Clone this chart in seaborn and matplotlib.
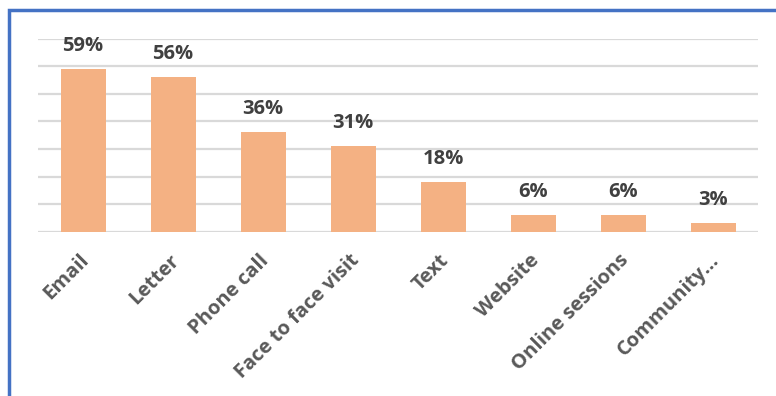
import matplotlib
matplotlib.use("Agg")
import matplotlib.pyplot as plt
from matplotlib.patches import Rectangle
from matplotlib.transforms import ScaledTranslation
import seaborn as sns
import pandas as pd

categories = ["Email", "Letter", "Phone call", "Face to face visit", "Text",
              "Website", "Online sessions", "Community…"]
values = [59, 56, 36, 31, 18, 6, 6, 3]
labels = ["59%", "56%", "36%", "31%", "18%", "6%", "6%", "3%"]

df = pd.DataFrame({"channel": categories, "share": values})

sns.set_theme(style="white")
plt.rcParams["font.family"] = ["Open Sans", "DejaVu Sans"]

W, H = 776, 396
fig = plt.figure(figsize=(W / 100, H / 100), dpi=100)
ax = fig.add_axes([38 / W, (H - 231.7) / H, (758 - 38) / W, (231.7 - 38.5) / H])

sns.barplot(data=df, x="channel", y="share", color="#F4B183", saturation=1,
            width=0.5, linewidth=0, ax=ax)

ax.set_ylim(0, 70)
ax.set_xlim(-0.5, len(categories) - 0.5)
ax.set_yticks(range(0, 71, 10))
ax.yaxis.grid(True, color="#D9D9D9", linewidth=1.6)
ax.set_axisbelow(True)
ax.tick_params(axis="y", left=False, labelleft=False)
ax.tick_params(axis="x", bottom=False, pad=4)
for s in ax.spines.values():
    s.set_visible(False)
ax.set_xlabel("")
ax.set_ylabel("")

ax.set_xticks(range(len(categories)))
ax.set_xticklabels(categories, rotation=45, ha="right", va="center",
                   rotation_mode="anchor", fontsize=14.5, fontweight="bold",
                   color="#595959")
for t in ax.get_xticklabels():
    t.set_transform(t.get_transform() + ScaledTranslation(
        3 / 100, -12 / 100, fig.dpi_scale_trans))

for bar, lab in zip(ax.patches, labels):
    ax.annotate(lab, (bar.get_x() + bar.get_width() / 2, bar.get_height()),
                xytext=(0, 18), textcoords="offset pixels",
                ha="center", va="baseline", fontsize=14.5, fontweight="bold",
                color="#404040")

# frame around the chart area
fig.patches.append(Rectangle((8.5 / W, -0.2), 1.2, 1.2 - 10 / H,
                             transform=fig.transFigure, fill=False,
                             edgecolor="#4472C4", linewidth=2.5))

fig.savefig("out.png", dpi=100)
